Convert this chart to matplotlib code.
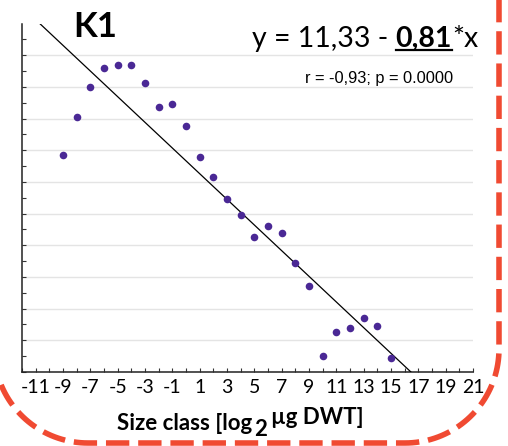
import numpy as np
import matplotlib
matplotlib.use("Agg")
from matplotlib import pyplot as plt

# size classes (log2 ug DWT) and log2 abundance per class
size_class = [-9, -8, -7, -6, -5, -4, -3, -2, -1, 0, 1, 2, 3, 4, 5, 6, 7,
              8, 9, 10, 11, 12, 13, 14, 15]
log_abund = [11.7, 14.1, 16.0, 17.2, 17.35, 17.35, 16.25, 14.7, 14.9, 13.5,
             11.6, 10.3, 8.9, 7.9, 6.5, 7.2, 6.8, 4.9, 3.4, -1.0, 0.5, 0.75,
             1.4, 0.9, -1.1]
intercept = 11.33
slope = -0.81
r_val = -0.93
p_val = 0.0
x_labels = ["-11", "-9", "-7", "-5", "-3", "-1", "1", "3", "5", "7", "9",
            "11", "13", "15", "17", "19", "21"]
x_label_pos = [-11, -9, -7, -5, -3, -1, 1, 3, 5, 7, 9, 11, 13, 15, 17, 19, 21]

W, H = 508, 446
fig = plt.figure(figsize=(W / 100, H / 100), dpi=100)
ax = fig.add_axes([22 / W, 1 - 372 / H, 451 / W, 348.5 / H])

xs = np.array([-12, 21])
ax.plot(xs, intercept + slope * xs, color="black", lw=0.9, zorder=3)
ax.scatter(size_class, log_abund, s=30, color="#4a2895", zorder=4, lw=0)

ax.set_xlim(-12, 21)
ax.set_ylim(-2, 20)
ax.set_xticks(x_label_pos)
ax.set_xticklabels(x_labels, fontfamily="Lato", fontsize=14)
ax.set_xticks(np.arange(-12, 21, 2), minor=True)
ax.set_yticks(np.arange(-2, 19, 2))
ax.set_yticks(np.arange(-1, 21, 2), minor=True)
ax.set_yticklabels([])
ax.tick_params(which="both", direction="in", length=3, width=0.8,
               color="#333333", pad=5)
ax.grid(axis="y", color="#e4e4e4", lw=1)
ax.set_axisbelow(True)
for s in ["top", "right"]:
    ax.spines[s].set_visible(False)
for s in ["left", "bottom"]:
    ax.spines[s].set_color("#222222")
    ax.spines[s].set_linewidth(1.1)

# overlay in pixel units for the annotations and the frame
ov = fig.add_axes([0, 0, 1, 1], zorder=10)
ov.set_xlim(0, W)
ov.set_ylim(H, 0)
ov.axis("off")
ov.patch.set_alpha(0)

fig.canvas.draw()
rend = fig.canvas.get_renderer()


def put(x, y, s, **kw):
    t = ov.text(x, y, s, va="baseline", ha="left", **kw)
    bb = t.get_window_extent(rend)
    return t, bb


ov.text(95, 37, "K1", fontfamily="Lato", fontweight="bold", fontsize=25,
        ha="center", va="baseline")

# regression equation, slope bold and underlined
eq_font = dict(fontfamily="Lato", fontsize=20.5)
x0, base = 252, 47
_, bb = put(x0, base, "y = %s - " % f"{intercept:.2f}".replace(".", ","), **eq_font)
_, bb2 = put(bb.x1, base, f"{abs(slope):.2f}".replace(".", ","),
             fontweight="bold", **eq_font)
ov.plot([bb2.x0, bb2.x1], [base + 3, base + 3], color="black", lw=1.6)
put(bb2.x1, base, "*x", **eq_font)

ov.text(379, 83, "r = %s; p = %.4f" % (f"{r_val:.2f}".replace(".", ","), p_val),
        fontfamily="Liberation Sans", fontsize=11.8, ha="center", va="baseline")

# axis title with subscript
lab_font = dict(fontfamily="Lato", fontweight="bold", fontsize=16)
_, bb = put(117, 430, "Size class [log", **lab_font)
_, bb = put(bb.x1 + 2, 436, "2", **lab_font)
put(bb.x1 + 4, 424, "\u00b5g DWT]", **lab_font)

# dashed rounded frame: right edge, bottom edge and the two lower corners
left, right, bottom, rad = -6, 499, 443, 94
a1 = np.linspace(0, np.pi / 2, 40)
a2 = np.linspace(np.pi / 2, np.pi, 40)
fx = np.concatenate([[right], right - rad + rad * np.cos(a1),
                     left + rad + rad * np.cos(a2)])
fy = np.concatenate([[-5], bottom - rad + rad * np.sin(a1),
                     bottom - rad + rad * np.sin(a2)])
keep = fx >= -1
ov.plot(fx[keep], fy[keep], color="#f04a32", lw=4, dashes=(4.2, 1.6),
        solid_capstyle="butt", dash_capstyle="butt", clip_on=False)

fig.savefig("out.png", dpi=100)
